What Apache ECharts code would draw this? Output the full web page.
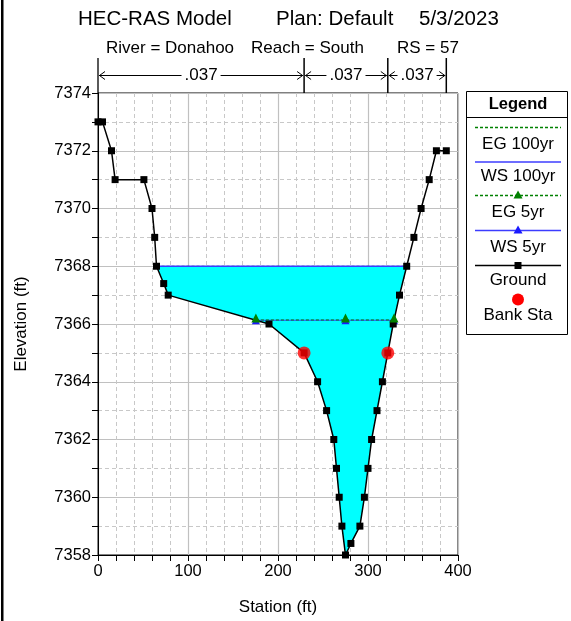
<!DOCTYPE html>
<html><head><meta charset="utf-8">
<script src="https://cdn.jsdelivr.net/npm/echarts@6/dist/echarts.min.js"></script>
<style>html,body{margin:0;padding:0;background:#fff}#c{width:571px;height:621px}</style>
</head><body><div id="c"></div>
<script>
// ---- data ----
const groundSta  = [0,5,15,19,51,60,63,65,73,78,190,229,244,254,262,265,268,271,275,281,291,296,300,304,310,316,322,328,335,343,351,359,368,376,387];
const groundElev = [7373,7373,7372,7371,7371,7370,7369,7368,7367.4,7367,7366,7365,7364,7363,7362,7361,7360,7359,7358,7358.4,7359,7360,7361,7362,7363,7364,7365,7366,7367,7368,7369,7370,7371,7372,7372];
const bankSta  = [229, 322];
const bankElev = [7365, 7365];
const ws100 = 7368.0;
const eg100 = 7368.0;
const ws5 = 7366.13;
const eg5 = 7366.14;
const nBreaks = [0, 229, 322, 387];
const nValues = ['.037', '.037', '.037'];
const xTicks = [0, 100, 200, 300, 400];
const yTicks = [7358, 7360, 7362, 7364, 7366, 7368, 7370, 7372, 7374];

const FONT = '"Liberation Sans", Arial, sans-serif';

// water edges from ground and a water surface elevation
function waterEdges(ws) {
  let iMin = 0;
  groundElev.forEach((e, i) => { if (e < groundElev[iMin]) iMin = i; });
  let i = iMin; while (i > 0 && groundElev[i - 1] < ws) i--;
  const a = i - 1;
  const xl = groundSta[a] + (groundElev[a] - ws) / (groundElev[a] - groundElev[i]) * (groundSta[i] - groundSta[a]);
  let j = iMin; while (j < groundElev.length - 1 && groundElev[j + 1] < ws) j++;
  const b = j + 1;
  const xr = groundSta[j] + (ws - groundElev[j]) / (groundElev[b] - groundElev[j]) * (groundSta[b] - groundSta[j]);
  return { xl, xr, i, j, thalweg: groundSta[iMin] };
}
function waterPolygon(ws) {
  const e = waterEdges(ws);
  const pts = [[e.xl, ws]];
  for (let k = e.i; k <= e.j; k++) pts.push([groundSta[k], groundElev[k]]);
  pts.push([e.xr, ws]);
  return pts;
}
const w100 = waterEdges(ws100);
const w5 = waterEdges(ws5);
const poly100 = waterPolygon(ws100);

const chart = echarts.init(document.getElementById('c'), null, { renderer: 'canvas' });

const axisLabelStyle = { color: '#000', fontSize: 16.5, fontFamily: FONT, formatter: v => String(v) };

// legend drawing (graphic)
const LX = 518, L1 = 475, L2 = 561;
function legLine(y, color, dash) {
  return { type: 'line', shape: { x1: L1, y1: y, x2: L2, y2: y }, style: { stroke: color, lineWidth: 1.3, lineDash: dash || null } };
}
function legText(y, t, bold) {
  return { type: 'text', x: LX, y: y, style: { text: t, fontSize: bold ? 16.5 : 17, fontWeight: bold ? 'bold' : 'normal', fontFamily: FONT, fill: '#000', align: 'center', verticalAlign: 'middle' } };
}
function tri(y, color) {
  return { type: 'polygon', shape: { points: [[LX, y - 5], [LX - 4.5, y + 3], [LX + 4.5, y + 3]] }, style: { fill: color } };
}

const graphic = [
  { type: 'rect', shape: { x: 1, y: 0, width: 2.5, height: 621 }, style: { fill: '#000' } },
  { type: 'text', x: 78, y: 19, style: { text: 'HEC-RAS Model', fontSize: 20.5, fontFamily: FONT, fill: '#000', verticalAlign: 'middle' } },
  { type: 'text', x: 276, y: 19, style: { text: 'Plan: Default', fontSize: 20.5, fontFamily: FONT, fill: '#000', verticalAlign: 'middle' } },
  { type: 'text', x: 419, y: 19, style: { text: '5/3/2023', fontSize: 20.5, fontFamily: FONT, fill: '#000', verticalAlign: 'middle' } },
  { type: 'text', x: 106, y: 48, style: { text: 'River = Donahoo', fontSize: 17, fontFamily: FONT, fill: '#000', verticalAlign: 'middle' } },
  { type: 'text', x: 251, y: 48, style: { text: 'Reach = South', fontSize: 17, fontFamily: FONT, fill: '#000', verticalAlign: 'middle' } },
  { type: 'text', x: 397, y: 48, style: { text: 'RS = 57', fontSize: 17, fontFamily: FONT, fill: '#000', verticalAlign: 'middle' } },
  // legend
  { type: 'rect', shape: { x: 466.5, y: 91.5, width: 101, height: 243 }, style: { fill: '#fff', stroke: '#000', lineWidth: 1 } },
  { type: 'line', shape: { x1: 466.5, y1: 117.5, x2: 567.5, y2: 117.5 }, style: { stroke: '#000', lineWidth: 1 } },
  legText(104, 'Legend', true),
  legLine(127.5, '#008000', [3, 2]), legText(144, 'EG 100yr'),
  legLine(162, '#3c3cff'), legText(176.5, 'WS 100yr'),
  legLine(195.5, '#008000', [3, 2]), tri(195.5, '#008000'), legText(212, 'EG 5yr'),
  legLine(230.5, '#3c3cff'), tri(230.5, '#1a1aff'), legText(247, 'WS 5yr'),
  legLine(265.5, '#000'), { type: 'rect', shape: { x: LX - 3.5, y: 262, width: 7, height: 7 }, style: { fill: '#000' } }, legText(280.5, 'Ground'),
  { type: 'circle', shape: { cx: LX, cy: 299.5, r: 6 }, style: { fill: '#ff0000' } }, legText(315, 'Bank Sta')
];

const nSegments = nValues.map((v, k) => [nBreaks[k], nBreaks[k + 1], v]);

chart.setOption({
  animation: false,
  backgroundColor: '#fff',
  textStyle: { fontFamily: FONT },
  grid: { left: 98, right: 113, top: 93, bottom: 66, show: true, borderColor: '#000', borderWidth: 1, backgroundColor: 'transparent' },
  xAxis: {
    type: 'value', min: xTicks[0], max: xTicks[xTicks.length - 1], interval: 100,
    name: 'Station (ft)', nameLocation: 'middle', nameGap: 44,
    nameTextStyle: { color: '#000', fontSize: 17, fontFamily: FONT },
    axisLine: { show: true, onZero: false, lineStyle: { color: '#000', width: 1 } },
    axisTick: { show: true, length: 6, lineStyle: { color: '#000' } },
    minorTick: { show: true, splitNumber: 5, length: 6, lineStyle: { color: '#000' } },
    axisLabel: Object.assign({}, axisLabelStyle, { margin: 8 }),
    splitLine: { show: true, lineStyle: { color: '#c0c0c0', width: 1.2 } },
    minorSplitLine: { show: true, lineStyle: { color: '#c8c8c8', type: [4, 3], width: 1 } }
  },
  yAxis: {
    type: 'value', min: yTicks[0], max: yTicks[yTicks.length - 1], interval: 2,
    name: 'Elevation (ft)', nameLocation: 'middle', nameGap: 68, nameRotate: 90,
    nameTextStyle: { color: '#000', fontSize: 17, fontFamily: FONT },
    axisLine: { show: true, onZero: false, lineStyle: { color: '#000', width: 1 } },
    axisTick: { show: true, length: 6, lineStyle: { color: '#000' } },
    minorTick: { show: true, splitNumber: 2, length: 6, lineStyle: { color: '#000' } },
    axisLabel: Object.assign({}, axisLabelStyle, { margin: 7 }),
    splitLine: { show: true, lineStyle: { color: '#c0c0c0', width: 1.2 } },
    minorSplitLine: { show: true, lineStyle: { color: '#c8c8c8', type: [4, 3], width: 1 } }
  },
  graphic: graphic,
  series: [
    {
      name: 'water100', type: 'custom', silent: true, z: 1,
      data: [[w100.xl, ws100]],
      renderItem: (params, api) => ({
        type: 'polygon', shape: { points: poly100.map(p => api.coord(p)) }, style: { fill: '#00ffff' }
      })
    },
    {
      name: 'EG 100yr', type: 'line', z: 3, symbol: 'none', silent: true,
      data: [[w100.xl, eg100], [w100.xr, eg100]],
      lineStyle: { color: '#008000', width: 1, type: [3, 2] }
    },
    {
      name: 'WS 100yr', type: 'line', z: 4, symbol: 'none', silent: true,
      data: [[w100.xl, ws100], [w100.xr, ws100]],
      lineStyle: { color: '#3c3cff', width: 1.5 }
    },
    {
      name: 'WS 5yr', type: 'line', z: 4, symbol: 'triangle', symbolSize: 8, silent: true,
      data: [[w5.xl, ws5], [w5.thalweg, ws5], [w5.xr, ws5]],
      itemStyle: { color: '#1a1aff' },
      lineStyle: { color: '#3c3cff', width: 1 }
    },
    {
      name: 'Ground', type: 'line', z: 6, symbol: 'rect', symbolSize: 7, silent: true,
      data: groundSta.map((s, k) => [s, groundElev[k]]),
      itemStyle: { color: '#000' },
      lineStyle: { color: '#000', width: 1.5 }
    },
    {
      name: 'EG 5yr', type: 'line', z: 7, symbol: 'triangle', symbolSize: 9, symbolOffset: [0, -2], silent: true,
      data: [[w5.xl, eg5], [w5.thalweg, eg5], [w5.xr, eg5]],
      itemStyle: { color: '#008000' },
      lineStyle: { color: '#008000', width: 1, type: [3, 2] }
    },
    {
      name: 'Bank Sta', type: 'scatter', z: 8, symbol: 'circle', symbolSize: 13, silent: true,
      data: bankSta.map((s, k) => [s, bankElev[k]]),
      itemStyle: { color: '#ff0000' }
    },
    {
      name: 'nValues', type: 'custom', clip: false, silent: true, z: 9,
      data: nSegments.map(s => [s[0], s[1]]),
      renderItem: (params, api) => {
        const idx = params.dataIndex;
        const top = params.coordSys.y;
        const x1 = api.coord([api.value(0), yTicks[yTicks.length - 1]])[0];
        const x2 = api.coord([api.value(1), yTicks[yTicks.length - 1]])[0];
        const y = top - 17.5, yTop = top - 35;
        const children = [];
        if (idx === 0) children.push({ type: 'line', shape: { x1: x1, y1: yTop, x2: x1, y2: top }, style: { stroke: '#000', lineWidth: 1.3 } });
        children.push({ type: 'line', shape: { x1: x2, y1: yTop, x2: x2, y2: top }, style: { stroke: '#000', lineWidth: 1.5 } });
        children.push({ type: 'line', shape: { x1: x1 + 1, y1: y, x2: x2 - 1, y2: y }, style: { stroke: '#000', lineWidth: 1 } });
        children.push({ type: 'polyline', shape: { points: [[x1 + 7, y - 4], [x1 + 1.5, y], [x1 + 7, y + 4]] }, style: { stroke: '#000', fill: null, lineWidth: 1 } });
        children.push({ type: 'polyline', shape: { points: [[x2 - 7, y - 4], [x2 - 1.5, y], [x2 - 7, y + 4]] }, style: { stroke: '#000', fill: null, lineWidth: 1 } });
        children.push({ type: 'text', x: (x1 + x2) / 2, y: y, style: { text: nSegments[idx][2], fontSize: 17, fontFamily: FONT, fill: '#000', align: 'center', verticalAlign: 'middle', backgroundColor: '#fff', padding: [0, 3] } });
        return { type: 'group', children: children };
      }
    }
  ]
});
</script>
</body></html>
